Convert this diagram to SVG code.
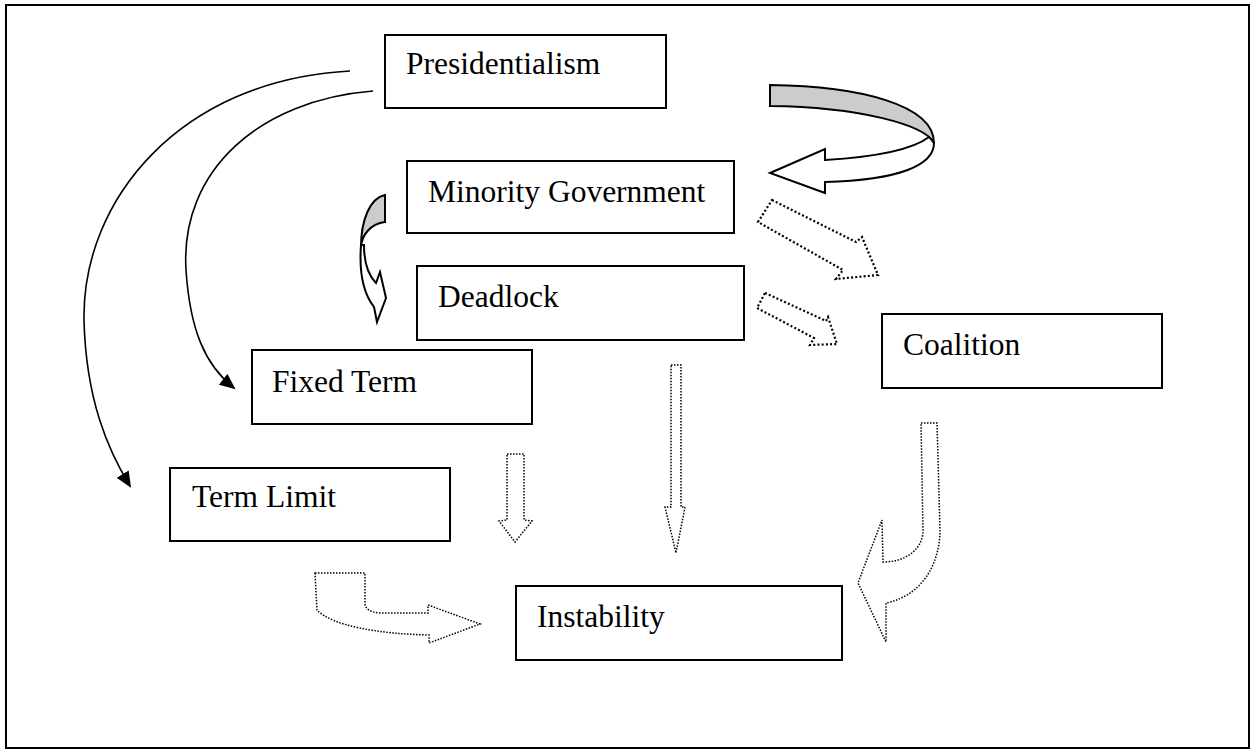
<svg xmlns="http://www.w3.org/2000/svg" width="1255" height="753" viewBox="0 0 1255 753">
  <style>
    .box { fill: #ffffff; stroke: #000000; stroke-width: 2; }
    .label { font-family: "Liberation Serif", "Times New Roman", serif; font-size: 31.5px; fill: #000000; }
    .curve { fill: none; stroke: #000000; stroke-width: 1.6; }
    .dotbold { fill: #ffffff; stroke: #000000; stroke-width: 2.2; stroke-dasharray: 2 2.2; }
    .dotfine { fill: #ffffff; stroke: #000000; stroke-width: 1.5; stroke-dasharray: 1.5 1.5; }
    .solid { stroke: #000000; stroke-width: 2; stroke-linejoin: miter; }
  </style>
  <defs>
    <marker id="tri" markerWidth="16" markerHeight="14" refX="14" refY="7" orient="auto" markerUnits="userSpaceOnUse">
      <path d="M0,0 L16,7 L0,14 Z" fill="#000000"/>
    </marker>
  </defs>

  <!-- page frame -->
  <rect x="6" y="5" width="1243" height="743" fill="#ffffff" stroke="#000000" stroke-width="2"/>

  <g id="connectors">
    <!-- Presidentialism to Term Limit / Fixed Term -->
    <path class="curve" d="M350,71 C180,80 82,200 84,320 C86,400 108,450 130,486" marker-end="url(#tri)"/>
    <path class="curve" d="M373,91 C260,100 180,170 186,270 C190,330 205,365 234,388" marker-end="url(#tri)"/>

    <!-- curved block arrow from Presidentialism back to Minority Government -->
    <path class="solid" fill="#ffffff" d="M934,143 C934,165 900,180 825,182 L825,193 L770,173 L825,149 L825,160 C875,157 912,150 929,137 C931,139 933,141 934,143 Z"/>
    <path class="solid" fill="#cccccc" d="M770,85 C860,86 934,105 934,143 C925,125 860,107 770,106 Z"/>

    <!-- curved block arrow from Minority Government down to Deadlock -->
    <path class="solid" fill="#ffffff" d="M361,245 C359,272 363,293 374,307 L377,322 L386,298 L380,272 L376,283 C368,275 364,262 364,245 Z"/>
    <path class="solid" fill="#cccccc" d="M385,195 C370,198 361,220 361,247 C362,235 370,224 385,222 Z"/>

    <!-- dotted block arrows -->
    <path class="dotbold" d="M772,200 L856,242 L862,237 L878,275 L836,279 L843,270 L758,222 Z"/>
    <path class="dotbold" d="M765,293 L826,321 L828,317 L837,344 L810,345 L814,338 L757,308 Z"/>
    <path class="dotfine" d="M507,454 L524,454 L524,520 L532,521 L515,542 L499,521 L507,520 Z"/>
    <path class="dotfine" d="M671,365 L681,365 L681,507 L685,507 L676,553 L665,507 L671,507 Z"/>
    <path class="dotfine" d="M315,573 L365,573 L365,604 Q366,612 380,613 L428,613 L428,605 L480,624 L429,643 L429,635 C380,634 332,626 317,610 Z"/>
    <path class="dotfine" d="M921,423 L937,423 L940,530 C940,560 925,595 886,603 L886,642 L858,583 L882,520 L883,562 C905,562 923,550 923,530 Z"/>
  </g>

  <g id="presidentialism">
    <rect class="box" x="385" y="35" width="281" height="73"/>
    <text class="label" x="406" y="74">Presidentialism</text>
  </g>
  <g id="minority-government">
    <rect class="box" x="407" y="161" width="327" height="72"/>
    <text class="label" x="428" y="202">Minority Government</text>
  </g>
  <g id="deadlock">
    <rect class="box" x="417" y="266" width="327" height="74"/>
    <text class="label" x="438" y="307">Deadlock</text>
  </g>
  <g id="coalition">
    <rect class="box" x="882" y="314" width="280" height="74"/>
    <text class="label" x="903" y="355">Coalition</text>
  </g>
  <g id="fixed-term">
    <rect class="box" x="252" y="350" width="280" height="74"/>
    <text class="label" x="272" y="392">Fixed Term</text>
  </g>
  <g id="term-limit">
    <rect class="box" x="170" y="468" width="280" height="73"/>
    <text class="label" x="192" y="507">Term Limit</text>
  </g>
  <g id="instability">
    <rect class="box" x="516" y="586" width="326" height="74"/>
    <text class="label" x="537" y="627">Instability</text>
  </g>
</svg>
